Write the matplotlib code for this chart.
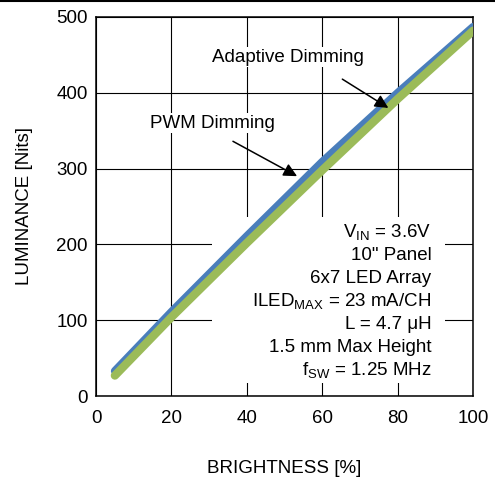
#!/usr/bin/env python3
"""Luminance vs brightness for adaptive and PWM dimming."""

import matplotlib
import matplotlib.pyplot as plt
from matplotlib.lines import Line2D
from matplotlib.patches import Rectangle

matplotlib.use("Agg")

# data
brightness = [5, 20, 40, 60, 80, 100]
adaptive_nits = [33, 111, 211, 309, 400, 487]
pwm_nits = [27, 104, 202, 298, 392, 482]

x_ticks = [0, 20, 40, 60, 80, 100]
y_ticks = [0, 100, 200, 300, 400, 500]

conditions = [
    r"V$_{\mathrm{IN}}$ = 3.6V",
    '10" Panel',
    "6x7 LED Array",
    r"ILED$_{\mathrm{MAX}}$ = 23 mA/CH",
    "L = 4.7 \u03bcH",
    "1.5 mm Max Height",
    r"f$_{\mathrm{SW}}$ = 1.25 MHz",
]

BLUE = "#4a7ebb"
GREEN = "#9bbb59"
FS = 13.5

plt.rcParams["font.family"] = ["Liberation Sans", "DejaVu Sans"]
plt.rcParams["mathtext.fontset"] = "custom"
plt.rcParams["mathtext.rm"] = "Liberation Sans"
plt.rcParams["mathtext.it"] = "Liberation Sans:italic"
plt.rcParams["mathtext.bf"] = "Liberation Sans:bold"

fig = plt.figure(figsize=(4.95, 4.78), dpi=100)
ax = fig.add_axes([0.194, 0.1715, 0.762, 0.793])

ax.set_xlim(0, 100)
ax.set_ylim(0, 500)
ax.set_xticks(x_ticks)
ax.set_yticks(y_ticks)
ax.tick_params(axis="both", length=0, labelsize=FS)
ax.tick_params(axis="x", pad=10)
ax.tick_params(axis="y", pad=6)
ax.set_axisbelow(True)
ax.grid(True, color="black", linewidth=0.8)
for sp in ax.spines.values():
    sp.set_linewidth(1.1)

# white box behind the conditions text (hides the grid there)
ax.add_patch(Rectangle((30.8, 17), 61.8, 219, facecolor="white",
                       edgecolor="none", zorder=1))

ax.plot(brightness, adaptive_nits, color=BLUE, linewidth=5.8,
        solid_capstyle="round", solid_joinstyle="round", zorder=3)
ax.plot(brightness, pwm_nits, color=GREEN, linewidth=6.0,
        solid_capstyle="round", solid_joinstyle="round", zorder=3)

box = dict(facecolor="white", edgecolor="none", pad=1)
ax.text(51, 447, "Adaptive Dimming", fontsize=FS, ha="center", va="center",
        bbox=box, zorder=4)
ax.text(30.8, 360, "PWM Dimming", fontsize=FS, ha="center", va="center",
        bbox=box, zorder=4)

arrow = dict(arrowstyle="-|>", color="black", lw=1.1, mutation_scale=20,
             shrinkA=0, shrinkB=0)
ax.annotate("", xy=(77.5, 380), xytext=(65.3, 418), arrowprops=arrow,
            zorder=5)
ax.annotate("", xy=(53.3, 290), xytext=(36.3, 336), arrowprops=arrow,
            zorder=5)

for i, line in enumerate(conditions):
    ax.text(88.9, 216 - i * 30.3, line, fontsize=FS, ha="right",
            va="center", zorder=4)

ax.set_xlabel("BRIGHTNESS [%]", fontsize=FS, labelpad=24)
ax.set_ylabel("LUMINANCE [Nits]", fontsize=FS, labelpad=17)

# thin rule along the top edge of the figure
fig.add_artist(Line2D([0, 1], [0.997, 0.997], color="black", linewidth=1.5,
                      transform=fig.transFigure))

fig.savefig("out.png", dpi=100)
